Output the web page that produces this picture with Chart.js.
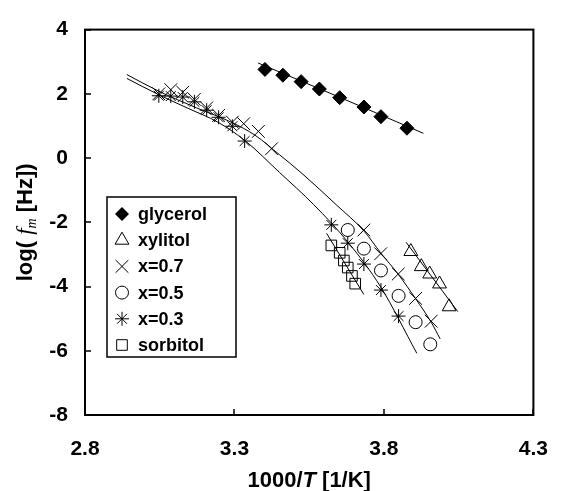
<!DOCTYPE html>
<html>
<head>
<meta charset="utf-8">
<script src="https://cdn.jsdelivr.net/npm/chart.js@4/dist/chart.umd.min.js"></script>
<style>
html, body { margin: 0; padding: 0; background: #fff; }
</style>
</head>
<body>
<canvas id="chart" width="570" height="491"></canvas>
<script>
const glycerolX = [3.402, 3.462, 3.523, 3.584, 3.652, 3.733, 3.790, 3.877];
const glycerolY = [2.76, 2.58, 2.38, 2.15, 1.88, 1.59, 1.29, 0.93];

const xylitolX = [3.890, 3.925, 3.953, 3.986, 4.018];
const xylitolY = [-2.91, -3.38, -3.61, -3.92, -4.63];

const x07X = [3.047, 3.087, 3.127, 3.166, 3.207, 3.247, 3.293, 3.331, 3.380, 3.424, 3.733, 3.789, 3.848, 3.906, 3.958];
const x07Y = [2.00, 2.13, 2.05, 1.83, 1.56, 1.33, 1.12, 1.07, 0.83, 0.29, -2.24, -2.98, -3.61, -4.37, -5.08];

const x05X = [3.679, 3.733, 3.790, 3.849, 3.906, 3.955];
const x05Y = [-2.24, -2.82, -3.50, -4.29, -5.11, -5.80];

const x03X = [3.047, 3.087, 3.127, 3.166, 3.207, 3.247, 3.293, 3.334, 3.624, 3.679, 3.733, 3.790, 3.849];
const x03Y = [1.94, 1.93, 1.90, 1.75, 1.49, 1.27, 0.99, 0.53, -2.08, -2.65, -3.30, -4.11, -4.92];

const sorbitolX = [3.624, 3.652, 3.666, 3.679, 3.693, 3.704];
const sorbitolY = [-2.72, -2.95, -3.19, -3.41, -3.67, -3.91];

// fitted curves, also
const fit07X = [2.940, 3.047, 3.174, 3.291, 3.369, 3.451, 3.526, 3.640, 3.734, 3.789, 3.848, 3.906, 3.958, 3.988];
const fit07Y = [2.60, 2.08, 1.56, 1.11, 0.71, 0.10, -0.48, -1.45, -2.28, -2.95, -3.62, -4.38, -5.11, -5.63];

const fit03X = [2.940, 3.047, 3.142, 3.246, 3.337, 3.451, 3.565, 3.679, 3.789, 3.910];
const fit03Y = [2.48, 1.97, 1.56, 1.11, 0.53, -0.45, -1.45, -2.61, -4.01, -6.08];

const glycerolFitX = [3.379, 3.655, 3.932];
const glycerolFitY = [2.96, 1.88, 0.77];

const xylitolFitX = [3.874, 4.047];
const xylitolFitY = [-2.62, -4.78];

const sorbitolFitX = [3.608, 3.733];
const sorbitolFitY = [-2.34, -4.25];

const xTickValues = [2.8, 3.3, 3.8, 4.3];
const legendNames = ['glycerol', 'xylitol', 'x=0.7', 'x=0.5', 'x=0.3', 'sorbitol'];

const pts = (xs, ys) => xs.map((x, i) => ({ x: x, y: ys[i] }));

const markerSets = [
    { label: legendNames[0], data: pts(glycerolX, glycerolY), pointStyle: 'rectRot', pointRadius: 7, backgroundColor: '#000' },
    { label: legendNames[1], data: pts(xylitolX, xylitolY), pointStyle: 'triangle', pointRadius: 8, backgroundColor: 'rgba(0,0,0,0)' },
    { label: legendNames[2], data: pts(x07X, x07Y), pointStyle: 'crossRot', pointRadius: 9, backgroundColor: 'rgba(0,0,0,0)' },
    { label: legendNames[3], data: pts(x05X, x05Y), pointStyle: 'circle', pointRadius: 6.5, backgroundColor: 'rgba(0,0,0,0)' },
    { label: legendNames[4], data: pts(x03X, x03Y), pointStyle: 'star', pointRadius: 7, backgroundColor: 'rgba(0,0,0,0)' },
    { label: legendNames[5], data: pts(sorbitolX, sorbitolY), pointStyle: 'rect', pointRadius: 7.5, backgroundColor: 'rgba(0,0,0,0)' }
].map(d => Object.assign(d, { showLine: false, borderColor: '#000', borderWidth: 1, pointBorderWidth: 1 }));

const fitSets = [
    pts(fit07X, fit07Y), pts(fit03X, fit03Y), pts(glycerolFitX, glycerolFitY),
    pts(xylitolFitX, xylitolFitY), pts(sorbitolFitX, sorbitolFitY)
].map(data => ({
    label: 'fit', data: data, showLine: true, pointRadius: 0,
    borderColor: '#000', borderWidth: 1, cubicInterpolationMode: 'monotone'
}));

const FONT = '"Liberation Sans", Arial, sans-serif';
const SERIF = '"Liberation Serif", "Times New Roman", serif';

function drawMarker(ctx, style, r, x, y) {
    ctx.beginPath();
    if (style === 'rectRot') {
        ctx.moveTo(x, y - r); ctx.lineTo(x + r, y); ctx.lineTo(x, y + r); ctx.lineTo(x - r, y); ctx.closePath();
        ctx.fillStyle = '#000'; ctx.fill();
    } else if (style === 'triangle') {
        ctx.moveTo(x, y - r); ctx.lineTo(x + r * 0.866, y + r / 2); ctx.lineTo(x - r * 0.866, y + r / 2); ctx.closePath();
        ctx.stroke();
    } else if (style === 'crossRot') {
        const o = r * 0.707;
        ctx.moveTo(x - o, y - o); ctx.lineTo(x + o, y + o); ctx.moveTo(x + o, y - o); ctx.lineTo(x - o, y + o);
        ctx.stroke();
    } else if (style === 'circle') {
        ctx.arc(x, y, r, 0, Math.PI * 2); ctx.stroke();
    } else if (style === 'star') {
        const o = r * 0.707;
        ctx.moveTo(x - r, y); ctx.lineTo(x + r, y); ctx.moveTo(x, y - r); ctx.lineTo(x, y + r);
        ctx.moveTo(x - o, y - o); ctx.lineTo(x + o, y + o); ctx.moveTo(x + o, y - o); ctx.lineTo(x - o, y + o);
        ctx.stroke();
    } else if (style === 'rect') {
        const s = r * 0.707;
        ctx.rect(x - s, y - s, 2 * s, 2 * s); ctx.stroke();
    }
}

const decorations = {
    id: 'decorations',
    afterDraw(chart) {
        const ctx = chart.ctx;
        const a = chart.chartArea;
        ctx.save();
        ctx.strokeStyle = '#000';

        // frame
        ctx.lineWidth = 2;
        ctx.strokeRect(a.left, a.top, a.right - a.left, a.bottom - a.top);

        // inward tick marks
        ctx.lineWidth = 1.5;
        chart.scales.y.ticks.forEach(t => {
            const py = Math.round(chart.scales.y.getPixelForValue(t.value));
            ctx.beginPath(); ctx.moveTo(a.left, py); ctx.lineTo(a.left + 6, py); ctx.stroke();
        });
        chart.scales.x.ticks.forEach(t => {
            const px = Math.round(chart.scales.x.getPixelForValue(t.value));
            ctx.beginPath(); ctx.moveTo(px, a.bottom); ctx.lineTo(px, a.bottom - 6); ctx.stroke();
        });

        // legend
        const lx = 107, ly = 197, lw = 129, lh = 160;
        ctx.fillStyle = '#fff';
        ctx.fillRect(lx, ly, lw, lh);
        ctx.lineWidth = 1.5;
        ctx.strokeRect(lx, ly, lw, lh);
        ctx.lineWidth = 1;
        chart.data.datasets.slice(0, legendNames.length).forEach((ds, i) => {
            const cy = ly + 17 + i * 26.2;
            drawMarker(ctx, ds.pointStyle, ds.pointRadius, lx + 15, cy);
            ctx.fillStyle = '#000';
            ctx.font = 'bold 18px ' + FONT;
            ctx.textAlign = 'left';
            ctx.textBaseline = 'middle';
            ctx.fillText(ds.label, lx + 31, cy + 1);
        });

        // axis titles
        const drawParts = (parts, cx, cy) => {
            let w = 0;
            parts.forEach(p => { ctx.font = p.f; p.w = ctx.measureText(p.t).width; w += p.w; });
            let x = cx - w / 2;
            ctx.textAlign = 'left';
            ctx.textBaseline = 'alphabetic';
            ctx.fillStyle = '#000';
            parts.forEach(p => { ctx.font = p.f; ctx.fillText(p.t, x, cy + (p.dy || 0)); x += p.w; });
        };
        drawParts([
            { t: '1000/', f: 'bold 22px ' + FONT },
            { t: 'T', f: 'italic bold 22px ' + FONT },
            { t: ' [1/K]', f: 'bold 22px ' + FONT }
        ], (a.left + a.right) / 2, 487);

        ctx.translate(32, (a.top + a.bottom) / 2);
        ctx.rotate(-Math.PI / 2);
        drawParts([
            { t: 'log( ', f: 'bold 22px ' + FONT },
            { t: 'f', f: 'italic 23px ' + SERIF },
            { t: 'm', f: 'italic 14px ' + SERIF, dy: 4 },
            { t: ' [Hz])', f: 'bold 22px ' + FONT }
        ], 0, 0);
        ctx.restore();
    }
};

new Chart(document.getElementById('chart'), {
    type: 'scatter',
    data: { datasets: markerSets.concat(fitSets) },
    options: {
        responsive: false,
        animation: false,
        layout: { padding: { top: 21, right: 24, left: 0, bottom: 0 } },
        plugins: { legend: { display: false }, tooltip: { enabled: false } },
        scales: {
            x: {
                type: 'linear', min: 2.8, max: 4.3,
                afterBuildTicks: s => { s.ticks = xTickValues.map(v => ({ value: v })); },
                afterFit: s => { s.height = 76; },
                grid: { display: false, drawTicks: false },
                border: { display: false },
                ticks: {
                    padding: 22, color: '#000', maxRotation: 0,
                    font: { family: FONT, size: 21, weight: 'bold' },
                    callback: v => v.toFixed(1)
                }
            },
            y: {
                type: 'linear', min: -8, max: 4,
                afterFit: s => { s.width = 85; },
                grid: { display: false, drawTicks: false },
                border: { display: false },
                ticks: {
                    stepSize: 2, padding: 17, color: '#000',
                    font: { family: FONT, size: 21, weight: 'bold' }
                }
            }
        }
    },
    plugins: [decorations]
});
</script>
</body>
</html>
